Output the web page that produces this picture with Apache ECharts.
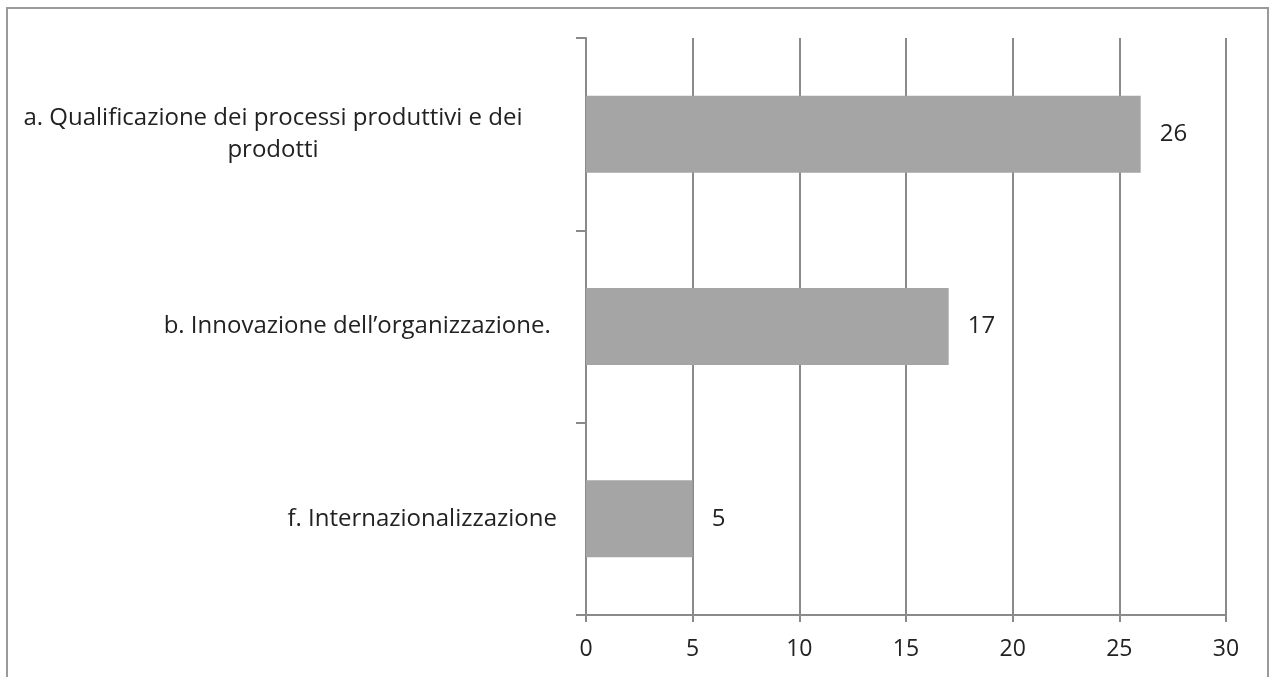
<!DOCTYPE html>
<html>
<head>
<meta charset="utf-8">
<script src="https://cdn.jsdelivr.net/npm/echarts@6/dist/echarts.min.js"></script>
<style>
html,body{margin:0;padding:0;background:#fff;}
#c{width:1272px;height:677px;}
</style>
</head>
<body>
<div id="c"></div>
<script>
const categories = [
  "a. Qualificazione dei processi produttivi e dei\nprodotti",
  "b. Innovazione dell\u2019organizzazione. ",
  "f. Internazionalizzazione"
];
const values = [26, 17, 5];
const xTicks = [0, 5, 10, 15, 20, 25, 30];

const chart = echarts.init(document.getElementById('c'), null, {renderer: 'canvas'});
const fontFamily = '"Open Sans", "DejaVu Sans", sans-serif';
const lineCol = '#8a8a8a';

const yData = categories.map((c, i) => {
  if (i === 0) {
    return {value: c, textStyle: {align: 'center', padding: [0, 568, 0, 0], lineHeight: 32}};
  }
  return {value: c};
});

chart.setOption({
  animation: false,
  backgroundColor: '#fff',
  grid: {left: 586, right: 46, top: 38, bottom: 62, containLabel: false},
  xAxis: {
    type: 'value',
    min: xTicks[0],
    max: xTicks[xTicks.length - 1],
    interval: 5,
    axisLine: {show: true, lineStyle: {color: lineCol, width: 2}},
    axisTick: {show: true, length: 7, lineStyle: {color: lineCol, width: 2}},
    axisLabel: {color: '#222', fontSize: 23, fontFamily: fontFamily, margin: 23},
    splitLine: {show: true, lineStyle: {color: lineCol, width: 2}}
  },
  yAxis: {
    type: 'category',
    inverse: true,
    data: yData,
    axisLine: {show: true, lineStyle: {color: lineCol, width: 2}},
    axisTick: {show: true, length: 10, lineStyle: {color: lineCol, width: 2}},
    axisLabel: {color: '#222', fontSize: 24, fontFamily: fontFamily, margin: 29, align: 'right', lineHeight: 32},
    splitLine: {show: false}
  },
  series: [{
    type: 'bar',
    data: values,
    barCategoryGap: '60%',
    itemStyle: {color: '#a5a5a5'},
    label: {show: true, position: 'right', distance: 19, color: '#222', fontSize: 24, fontFamily: fontFamily}
  }],
  graphic: [{
    type: 'rect',
    shape: {x: 7, y: 8, width: 1261, height: 720},
    style: {fill: 'none', stroke: '#9a9a9a', lineWidth: 2},
    silent: true,
    z: -1
  }]
});
</script>
</body>
</html>
